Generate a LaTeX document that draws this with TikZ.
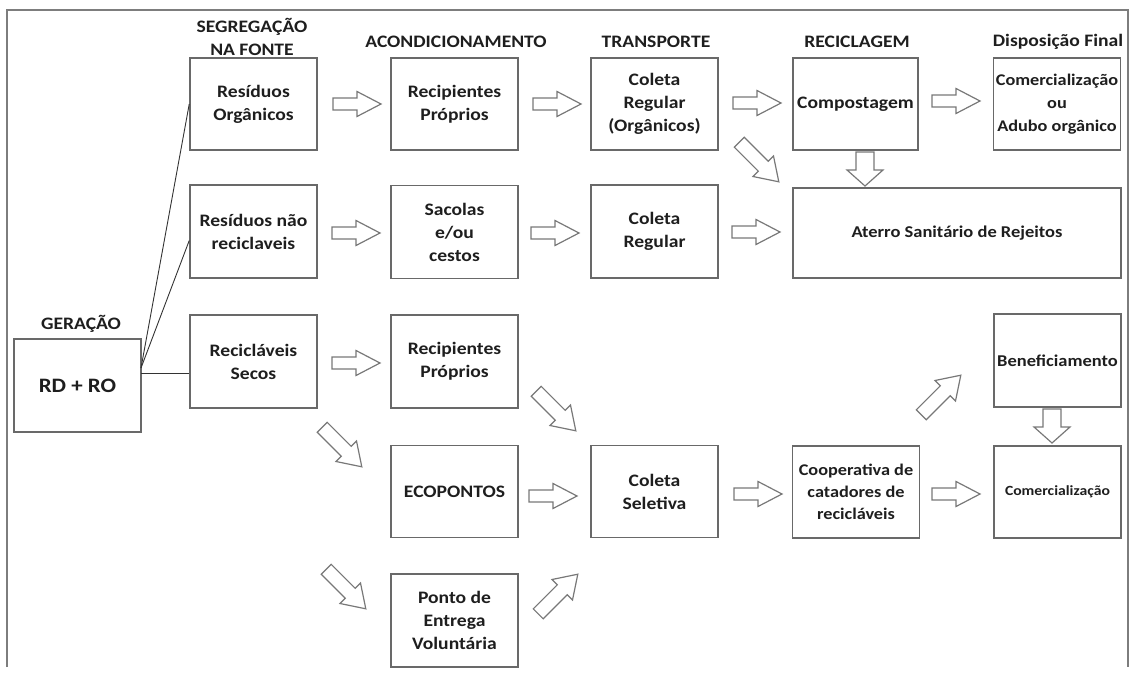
\documentclass[tikz,border=0pt]{standalone}
\usepackage{fontspec}
\setmainfont{Carlito}[FakeStretch=1.12]
\definecolor{boxgray}{RGB}{105,105,105}
\definecolor{arrgray}{RGB}{120,120,120}
\definecolor{framegray}{RGB}{125,125,125}
\definecolor{txt}{RGB}{30,30,30}
\tikzset{
  box/.style={draw=boxgray, line width=1.5pt, minimum width=127pt, minimum height=92pt,
    inner sep=0pt, align=center, text=txt, font=\bfseries\fontsize{17.5}{23}\selectfont},
  hdr/.style={inner sep=0pt, align=center, text=txt, font=\bfseries\fontsize{17.5}{23}\selectfont},
  barrowstyle/.style={draw=arrgray, line width=1.2pt, fill=white, line join=miter},
  link/.style={draw=black!80, line width=0.9pt},
}
% x, y, angle, half length, body half width, head half width, head length
\newcommand{\blockarr}[7]{%
  \draw[barrowstyle, shift={(#1,#2)}, rotate=#3]
    (-#4,-#5) -- ({#4-#7},-#5) -- ({#4-#7},-#6) -- (#4,0) -- ({#4-#7},#6)
    -- ({#4-#7},#5) -- (-#4,#5) -- cycle;}
\newcommand{\harr}[2]{\blockarr{#1}{#2}{0}{24}{6}{12.5}{24}}
\newcommand{\darr}[3]{\blockarr{#1}{#2}{#3}{28}{7}{14.5}{22}}
\newcommand{\varr}[2]{\blockarr{#1}{#2}{-90}{17}{9}{18}{16}}
\begin{document}
\begin{tikzpicture}[x=1pt, y=-1pt]
\useasboundingbox (0,0) rectangle (1130,673);
% frame
\draw[framegray, line width=2.2pt] (7,667) -- (7,10) -- (1128,10) -- (1128,667);

% headers
\node[hdr] (hgen) at (81,324) {GERAÇÃO};
\node[hdr] (hseg) at (252,36.5) {SEGREGAÇÃO\\NA FONTE};
\node[hdr] (hacon) at (456,42) {ACONDICIONAMENTO};
\node[hdr] (htrans) at (656,42) {TRANSPORTE};
\node[hdr] (hrec) at (857,42) {RECICLAGEM};
\node[hdr] (hdisp) at (1058,42) {Disposição Final};

% boxes
\node[box, minimum height=93pt, font=\bfseries\fontsize{20.5}{24}\selectfont] (gen) at (77.5,385.5) {RD + RO};
\node[box] (ro) at (253.5,104) {Resíduos\\Orgânicos};
\node[box, minimum height=93pt] (rnr) at (253.5,231.5) {Resíduos não\\reciclaveis};
\node[box, minimum height=93pt] (rs) at (253.5,361.5) {Recicláveis\\Secos};
\node[box] (rp1) at (454.5,104) {Recipientes\\Próprios};
\node[box, minimum height=93pt] (sac) at (454.5,232) {Sacolas\\e/ou\\cestos};
\node[box, minimum height=93pt] (rp3) at (454.5,361.5) {Recipientes\\Próprios};
\node[box] (eco) at (454.5,491.5) {ECOPONTOS};
\node[box, minimum height=93pt] (pev) at (454.5,620.5) {Ponto de\\Entrega\\Voluntária};
\node[box] (cro) at (654.5,104) {Coleta\\Regular\\(Orgânicos)};
\node[box, minimum height=93pt] (cr) at (654.5,231.5) {Coleta\\Regular};
\node[box] (cs) at (654.5,491.5) {Coleta\\Seletiva};
\node[box, minimum width=125pt] (comp) at (855.5,104) {Compostagem};
\node[box, font=\bfseries\fontsize{16.3}{23}\selectfont] (com1) at (1057,104) {Comercialização\\ou\\Adubo orgânico};
\node[box, minimum width=328pt, minimum height=90pt, font=\bfseries\fontsize{16.5}{23}\selectfont] (ater) at (957,233) {Aterro Sanitário de Rejeitos};
\node[box, font=\bfseries\fontsize{16.3}{22}\selectfont] (coop) at (856,492) {Cooperativa de\\catadores de\\recicláveis};
\node[box, minimum height=93pt, font=\bfseries\fontsize{16.5}{23}\selectfont] (ben) at (1057.5,360.5) {Beneficiamento};
\node[box, font=\bfseries\fontsize{14}{20}\selectfont] (com2) at (1057.5,492) {Comercialização};

% links from generation
\coordinate (g1) at (141,368);
\coordinate (g2) at (141,373);
\draw[link] (g1) -- (ro.west);
\draw[link] (g1) -- ([yshift=-9pt]rnr.west);
\draw[link] (g2) -- (rs.west |- g2);

% horizontal block arrows
\harr{357}{104}
\harr{557}{104}
\harr{757}{103}
\harr{956}{101}
\harr{356}{233}
\harr{555}{233}
\harr{756}{232}
\harr{356}{363}
\harr{553}{496}
\harr{758}{494}
\harr{956}{494}

% diagonal block arrows
\darr{759}{162}{-45}
\darr{342}{447}{-45}
\darr{346}{589}{-45}
\darr{556}{411}{-45}
\darr{558}{594}{45}
\darr{941}{395}{45}

% vertical block arrows
\varr{865}{169}
\varr{1052}{426}
\end{tikzpicture}
\end{document}
